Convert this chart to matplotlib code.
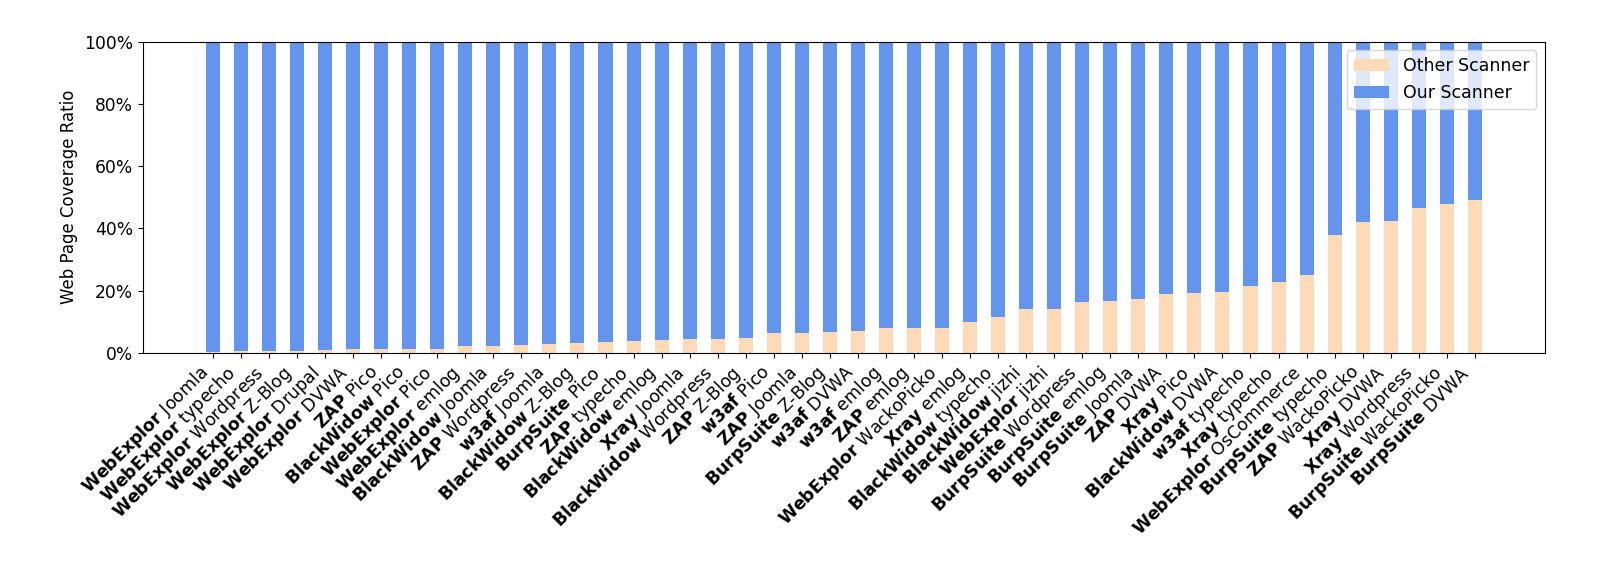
import matplotlib
matplotlib.use("Agg")
import matplotlib.pyplot as plt
import numpy as np

scanners = ["WebExplor", "WebExplor", "WebExplor", "WebExplor", "WebExplor", "WebExplor",
            "ZAP", "BlackWidow", "WebExplor", "WebExplor", "BlackWidow", "ZAP", "w3af",
            "BlackWidow", "BurpSuite", "ZAP", "BlackWidow", "Xray", "BlackWidow", "ZAP",
            "w3af", "ZAP", "BurpSuite", "w3af", "w3af", "ZAP", "WebExplor", "Xray",
            "BlackWidow", "BlackWidow", "WebExplor", "BurpSuite", "BurpSuite", "BurpSuite",
            "ZAP", "Xray", "BlackWidow", "w3af", "Xray", "WebExplor", "BurpSuite", "ZAP",
            "Xray", "Xray", "BurpSuite", "BurpSuite"]
apps = ["Joomla", "typecho", "Wordpress", "Z-Blog", "Drupal", "DVWA",
        "Pico", "Pico", "Pico", "emlog", "Joomla", "Wordpress", "Joomla",
        "Z-Blog", "Pico", "typecho", "emlog", "Joomla", "Wordpress", "Z-Blog",
        "Pico", "Joomla", "Z-Blog", "DVWA", "emlog", "emlog", "WackoPicko", "emlog",
        "typecho", "jizhi", "jizhi", "Wordpress", "emlog", "Joomla",
        "DVWA", "Pico", "DVWA", "typecho", "typecho", "OsCommerce", "typecho", "WackoPicko",
        "DVWA", "Wordpress", "WackoPicko", "DVWA"]
other_pct = [0.3, 0.6, 0.6, 0.6, 0.9, 1.1, 1.1, 1.1, 1.1, 2.1, 2.1, 2.5, 2.7,
             3.2, 3.3, 3.9, 4.1, 4.5, 4.5, 4.6, 6.4, 6.4, 6.75, 7.1, 7.8, 7.8, 8.0, 9.9,
             11.6, 14.0, 14.1, 16.4, 16.6, 17.4, 18.9, 19.1, 19.5, 21.3, 22.6, 24.9,
             37.7, 42.0, 42.3, 46.4, 47.7, 49.1]

other = np.array(other_pct) / 100.0
ours = 1.0 - other

plt.rcParams['mathtext.fontset'] = 'custom'
plt.rcParams['mathtext.bf'] = 'DejaVu Sans:bold'
plt.rcParams['mathtext.rm'] = 'DejaVu Sans'
plt.rcParams['mathtext.it'] = 'DejaVu Sans:italic'

fig = plt.figure(figsize=(15.99, 5.72), dpi=100)
ax = fig.add_axes([0.0893, 0.3834, 0.9662 - 0.0893, 0.9269 - 0.3834])

x = np.arange(len(other))
ax.bar(x, other, width=0.5, color="peachpuff", label="Other Scanner")
ax.bar(x, ours, width=0.5, bottom=other, color="cornflowerblue", label="Our Scanner")

ax.set_xlim(-2.5, len(other) + 1.5)
ax.set_ylim(0, 1)
ax.set_yticks([0, 0.2, 0.4, 0.6, 0.8, 1.0])
ax.set_yticklabels(["0%", "20%", "40%", "60%", "80%", "100%"], fontsize=12.3)
ax.set_ylabel("Web Page Coverage Ratio", fontsize=12)

labels = [r"$\mathbf{%s}$ %s" % (s, a) for s, a in zip(scanners, apps)]
ax.set_xticks(x)
ax.set_xticklabels(labels, rotation=45, ha="right", fontsize=12.5)

ax.legend(loc="upper right", fontsize=12.5)

fig.savefig("out.png", dpi=100)
